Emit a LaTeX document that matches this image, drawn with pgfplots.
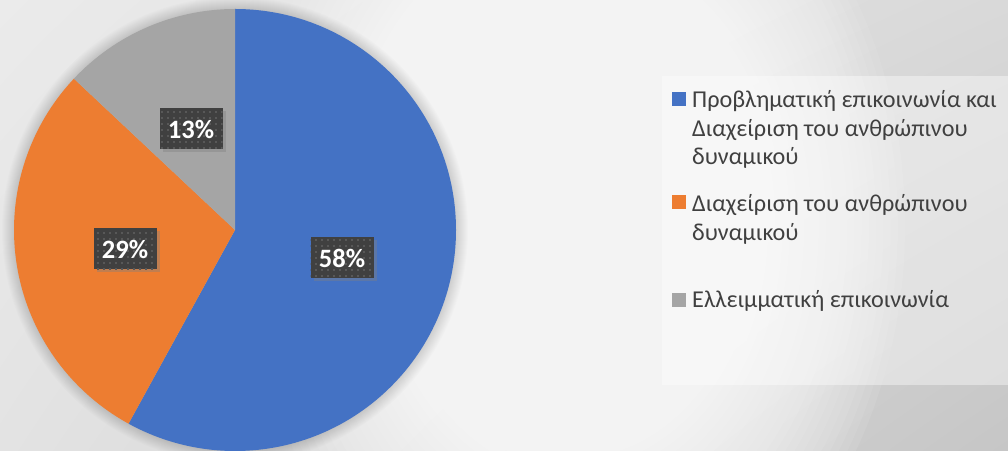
\documentclass[border=0pt]{standalone}
\usepackage{pgfplots}
\pgfplotsset{compat=1.18}
\usepackage{pgfplotstable}
\usepackage{fontspec}
\setmainfont{Carlito}
\usetikzlibrary{shadows,shadings,patterns.meta}

\definecolor{cBlue}{HTML}{4472C4}
\definecolor{cOrange}{HTML}{ED7D31}
\definecolor{cGray}{HTML}{A5A5A5}
\definecolor{lblBox}{HTML}{404040}
\definecolor{lblDot}{HTML}{585858}
\definecolor{txtGray}{HTML}{404040}
\definecolor{bgUL}{HTML}{EBEBEB}
\definecolor{bgUR}{HTML}{D9D9D9}
\definecolor{bgLL}{HTML}{E3E3E3}
\definecolor{bgLR}{HTML}{C6C6C6}

\tikzdeclarepattern{
  name=lbldots,
  type=uncolored,
  bounding box={(0,0) and (6.4bp,6.4bp)},
  tile size={(6.4bp,6.4bp)},
  code={\fill (2.2bp,2.2bp) rectangle (4.2bp,4.2bp);}
}

% value (percent), slice colour, label position
\pgfplotstableread{
value color lx ly
58 cBlue 342 193
29 cOrange 125 202
13 cGray 191 322
}\piedata
\pgfplotstablegetrowsof{\piedata}
\pgfmathtruncatemacro\nrows{\pgfplotsretval-1}

\tikzset{lbl/.style={drop shadow={opacity=0.4,shadow xshift=3bp,shadow yshift=-3bp},
  preaction={fill=lblBox}, pattern=lbldots, pattern color=lblDot,
  minimum width=63bp, minimum height=41bp, inner sep=0pt, text=white,
  font=\fontsize{26.5bp}{30bp}\selectfont\bfseries}}
\tikzset{leg/.style={anchor=base west, inner sep=0pt, text=txtGray,
  font=\fontsize{24.2bp}{29bp}\selectfont}}

\begin{document}
\begin{tikzpicture}
\begin{axis}[name=ax, x=1bp, y=1bp, xmin=0, xmax=1008, ymin=0, ymax=451,
  hide axis, clip=false]
\begin{scope}
\clip (axis cs:0,0) rectangle (axis cs:1008,451);
\shade[upper left=bgUL, upper right=bgUR, lower left=bgLL, lower right=bgLR]
  (axis cs:0,0) rectangle (axis cs:1008,451);
\pgfplotsforeachungrouped \k in {1,...,40} {
  \pgfmathsetmacro\s{1-(\k-1)*0.85/39}
  \edef\cmd{\noexpand\fill[white,opacity=0.08] (axis cs:575,226) ellipse [x radius=\s*330bp, y radius=\s*430bp];}
  \cmd
}
\pgfplotsforeachungrouped \k in {1,...,12} {
  \edef\cmd{\noexpand\fill[black,opacity=0.012] (axis cs:235,221) circle [radius=221bp+\k bp];}
  \cmd
}
% pie slices
\def\angstart{90}
\pgfplotsforeachungrouped \i in {0,...,\nrows} {
  \pgfplotstablegetelem{\i}{value}\of\piedata \let\v\pgfplotsretval
  \pgfplotstablegetelem{\i}{color}\of\piedata \let\c\pgfplotsretval
  \pgfmathsetmacro\angend{\angstart-3.6*\v}
  \edef\cmd{\noexpand\fill[\c] (axis cs:235,221) -- ++(\angstart:221bp) arc [start angle=\angstart, end angle=\angend, radius=221bp] -- cycle;}
  \cmd
  \let\angstart\angend
}
\end{scope}
% data labels
\pgfplotsforeachungrouped \i in {0,...,\nrows} {
  \pgfplotstablegetelem{\i}{value}\of\piedata \let\v\pgfplotsretval
  \pgfplotstablegetelem{\i}{lx}\of\piedata \let\lx\pgfplotsretval
  \pgfplotstablegetelem{\i}{ly}\of\piedata \let\ly\pgfplotsretval
  \edef\cmd{\noexpand\node[lbl] at (axis cs:\lx,\ly) {\v\noexpand\%};}
  \cmd
}
% legend
\fill[white,opacity=0.4] (axis cs:662,66) rectangle (axis cs:1008,375);
\fill[cBlue] (axis cs:672,345) rectangle (axis cs:686,359);
\node[leg] at (axis cs:692,343) {Προβληματική επικοινωνία και};
\node[leg] at (axis cs:692,314.5) {Διαχείριση του ανθρώπινου};
\node[leg] at (axis cs:692,286) {δυναμικού};
\fill[cOrange] (axis cs:672,242) rectangle (axis cs:686,256);
\node[leg] at (axis cs:692,239) {Διαχείριση του ανθρώπινου};
\node[leg] at (axis cs:692,210.5) {δυναμικού};
\fill[cGray] (axis cs:672,144) rectangle (axis cs:686,158);
\node[leg] at (axis cs:692,143) {Ελλειμματική επικοινωνία};
\end{axis}
\pgfresetboundingbox
\path[use as bounding box] (ax.south west) rectangle (ax.north east);
\end{tikzpicture}
\end{document}
